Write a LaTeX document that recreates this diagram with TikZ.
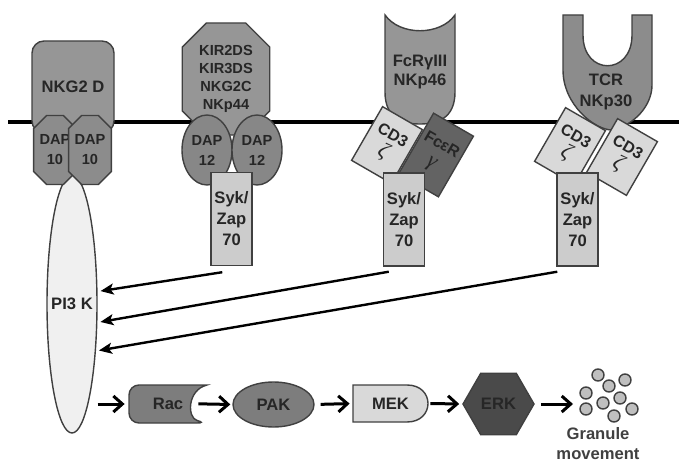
\documentclass[tikz,border=0pt]{standalone}
\usepackage{fontspec}
\setmainfont{Liberation Sans}
\newfontfamily\grk{Liberation Serif}
\newcommand{\grkz}[1]{{\grk\mdseries\itshape\fontsize{11}{10}\selectfont #1}}
\usepackage{tikz}
\usetikzlibrary{positioning,calc}
\usetikzlibrary{arrows.meta,shapes.geometric,shapes.misc}

\begin{document}
\begin{tikzpicture}[x=0.5pt,y=-0.5pt,
	every node/.style={font=\bfseries\fontsize{8.3}{10.5}\selectfont,align=center,inner sep=0pt,text=black!85},
	mol/.style={draw=black!75,line width=0.7pt},
	small/.style={font=\bfseries\fontsize{7.3}{10}\selectfont},
	sykbox/.style={mol,fill=black!20,minimum width=20.5pt,minimum height=46.5pt},
	cdbox/.style={mol,fill=black!15,rotate=-30,minimum width=23pt,minimum height=31pt,font=\bfseries\fontsize{8}{10}\selectfont},
	link/.style={-{Stealth[length=6.5pt,width=5.5pt,inset=1.5pt]},line width=1.2pt,shorten >=1.5pt},
	flow/.style={-{Straight Barb[length=4.5pt,width=8pt]},line width=1.5pt},
	granule/.style={circle,mol,fill=black!25,minimum size=6pt}]
	\useasboundingbox (0,0) rectangle (679,460);

	\coordinate (memL) at (8,122);
	\coordinate (memR) at (679,122);
	\draw[line width=2pt] (memL) -- (memR);

	% NKG2D
	\node[mol,ellipse,fill=black!6,minimum width=25pt,minimum height=129pt,label={center:PI3 K}] (pi3k) at (72,304) {};
	\node[mol,fill=black!41,rounded corners=6pt,minimum width=41pt,minimum height=46pt] (nkg) at (73,87) {NKG2 D};
	\node[mol,small,chamfered rectangle,chamfered rectangle xsep=3pt,fill=black!45,minimum width=18pt,minimum height=34.5pt] (dapa) at (55,150) {DAP\\10};
	\node[mol,small,chamfered rectangle,chamfered rectangle xsep=3pt,fill=black!45,minimum width=18pt,minimum height=34.5pt] (dapb) at (90,150) {DAP\\10};

	% KIR
	\node[mol,chamfered rectangle,chamfered rectangle xsep=8.5pt,fill=black!41,minimum width=37.5pt,minimum height=56pt,font=\bfseries\fontsize{7.3}{9}\selectfont] (kir) at (226,79) {KIR2DS\\KIR3DS\\NKG2C\\NKp44};
	\node[mol,small,ellipse,fill=black!47,minimum width=25pt,minimum height=35pt] (dapc) at (207,150) {DAP\\12};
	\node[mol,small,ellipse,fill=black!47,minimum width=25pt,minimum height=35pt] (dapd) at (257,150) {DAP\\12};
	\node[sykbox] (syk1) at (231.5,219) {Syk/\\Zap\\70};

	% FcR
	\draw[mol,fill=black!41] (385,15) -- (385,92) .. controls (385,118) and (402,124) .. (420,124)
		.. controls (438,124) and (455,118) .. (455,92) -- (455,15) .. controls (440,36) and (400,36) .. cycle;
	\node[font=\bfseries\fontsize{8.3}{9.5}\selectfont] (fcr) at (420,72) {FcRγIII\\NKp46};
	\node[cdbox] (cdz1) at (387,145) {CD3\\\grkz{ζ}};
	\node[cdbox,fill=black!61,minimum height=35pt] (fcer) at (436,155) {FcεR\\\grkz{γ}};
	\node[sykbox] (syk2) at (404,219.5) {Syk/\\Zap\\70};

	% TCR
	\draw[mol,fill=black!45] (563,15) -- (563,70) .. controls (563,105) and (595,130) .. (612,130)
		.. controls (635,125) and (652,105) .. (652,85) -- (652,15) -- (632,15) -- (632,35)
		.. controls (632,76) and (583,76) .. (583,35) -- (583,15) -- cycle;
	\node (tcr) at (606,92) {TCR\\NKp30};
	\node[cdbox] (cdz2) at (570,146) {CD3\\\grkz{ζ}};
	\node[cdbox] (cdz3) at (622,157) {CD3\\\grkz{ζ}};
	\node[sykbox] (syk3) at (577.5,219.5) {Syk/\\Zap\\70};

	\draw[link] ($(syk1.south west)+(12,6)$) -- (pi3k.26);
	\draw[link] ($(syk2.south west)+(6,5)$) -- (pi3k.-36);
	\draw[link] ($(syk3.south west)+(1,5)$) -- (pi3k.-63);

	% pathway
	\draw[mol,fill=black!51] (207,385) [rounded corners=5pt] -- (129,385) -- (129,423) -- (207,423) [sharp corners]
		.. controls (187,418) and (187,390) .. (207,385) -- cycle;
	\node[minimum width=39pt,minimum height=19pt] (rac) at (168,404) {Rac};
	\node[mol,ellipse,fill=black!51,minimum width=40.5pt,minimum height=22.5pt] (pak) at (273.5,404.5) {PAK};
	\draw[mol,fill=black!15] (353,385) -- (407,385) .. controls (435,385) and (435,422) .. (407,422) -- (353,422) -- cycle;
	\node[minimum width=37.5pt,minimum height=18.5pt] (mek) at (390.5,403.5) {MEK};
	\node[mol,regular polygon,regular polygon sides=6,fill=black!71,minimum size=35.5pt] (erk) at (498.5,404) {ERK};
	\foreach \gx/\gy [count=\i] in {598/375,609/386,625/380,586/393,620/398,603/403,586/409,614/416,632/409}
		\node[granule] (g\i) at (\gx,\gy) {};
	\coordinate (gran) at (573,404);
	\node[font=\bfseries\fontsize{8.3}{10}\selectfont,text=black!75] (grantxt) at (598,444) {Granule\\movement};

	\draw[flow,shorten >=2pt] (rac.west -| pi3k.east) -- (rac.west);
	\draw[flow,shorten <=-4.5pt,shorten >=1pt] (rac.east) -- (pak.west);
	\draw[flow,shorten <=3pt,shorten >=1.5pt] (pak.east) -- (mek.west);
	\draw[flow,shorten <=1pt,shorten >=1.5pt] (mek.east) -- (erk.west);
	\draw[flow,shorten <=3pt] (erk.east) -- (gran);
\end{tikzpicture}
\end{document}
